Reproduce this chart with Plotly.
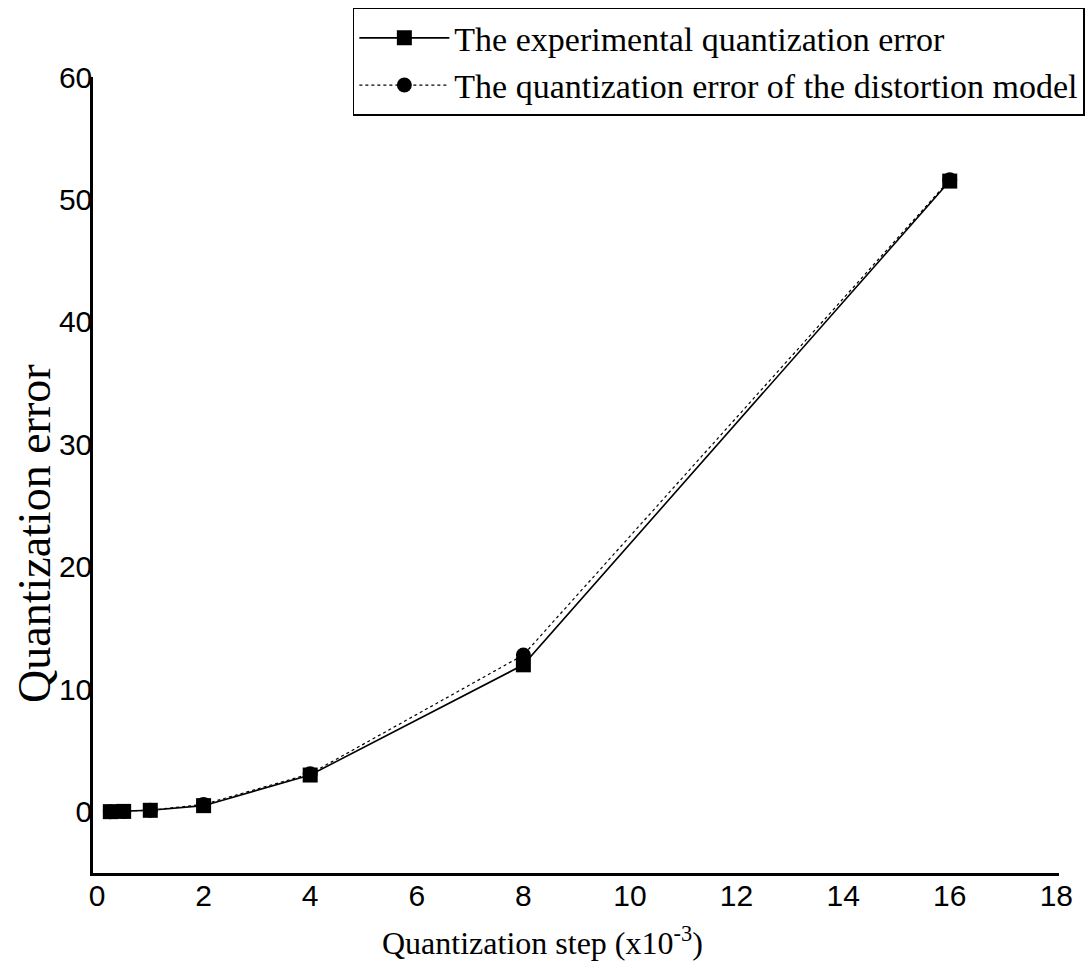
import plotly.graph_objects as go

# Quantization step (x10^-3)
steps = [0.25, 0.5, 1, 2, 4, 8, 16]
# Measured quantization error
experimental = [0.01, 0.03, 0.12, 0.5, 3.0, 12.0, 51.5]
# Quantization error predicted by the distortion model
model = [0.01, 0.03, 0.13, 0.6, 3.1, 12.8, 51.6]

x_ticks = [0, 2, 4, 6, 8, 10, 12, 14, 16, 18]
y_ticks = [0, 10, 20, 30, 40, 50, 60]

serif = "Liberation Serif, Times New Roman, serif"
sans = "Liberation Sans, Arial, sans-serif"

fig = go.Figure()
fig.add_trace(go.Scatter(
    x=steps, y=experimental, mode="lines+markers",
    name="The experimental quantization error",
    line=dict(color="black", width=1.6),
    marker=dict(symbol="square", size=15, color="black"),
))
fig.add_trace(go.Scatter(
    x=steps, y=model, mode="lines+markers",
    name="The quantization error of the distortion model",
    line=dict(color="black", width=1.2, dash="dot"),
    marker=dict(symbol="circle", size=15, color="black"),
))

fig.update_layout(
    width=1090, height=977,
    margin=dict(l=93, r=31, t=77, b=104, autoexpand=False),
    paper_bgcolor="white", plot_bgcolor="white",
    showlegend=True,
    legend=dict(
        x=0.269, y=1.087, xanchor="left", yanchor="top",
        bgcolor="white", bordercolor="black", borderwidth=1.5,
        font=dict(family=serif, size=34, color="black"),
        itemwidth=90, tracegroupgap=0,
    ),
    xaxis=dict(
        range=[-0.075, 18.05], tickvals=x_ticks,
        ticktext=[str(v) for v in x_ticks],
        showgrid=False, zeroline=False, showline=True,
        linecolor="black", linewidth=2.5, ticks="",
        ticklabelstandoff=-6, automargin=False,
        tickfont=dict(family=sans, size=30, color="black"),
    ),
    yaxis=dict(
        range=[-5, 60], tickvals=y_ticks,
        ticktext=[str(v) for v in y_ticks],
        showgrid=False, zeroline=False, showline=True,
        linecolor="black", linewidth=2.5, ticks="",
        ticklabelstandoff=-8, automargin=False,
        tickfont=dict(family=sans, size=30, color="black"),
    ),
    annotations=[
        dict(text="Quantization step (x10<sup>-3</sup>)",
             xref="paper", yref="paper", x=0.465, y=-0.085,
             xanchor="center", yanchor="middle", showarrow=False,
             font=dict(family=serif, size=32, color="black")),
        dict(text="Quantization error", textangle=-90,
             xref="paper", yref="paper", x=-0.06, y=0.426,
             xanchor="center", yanchor="middle", showarrow=False,
             font=dict(family=serif, size=46, color="black")),
    ],
)

fig.write_html("out.html")
